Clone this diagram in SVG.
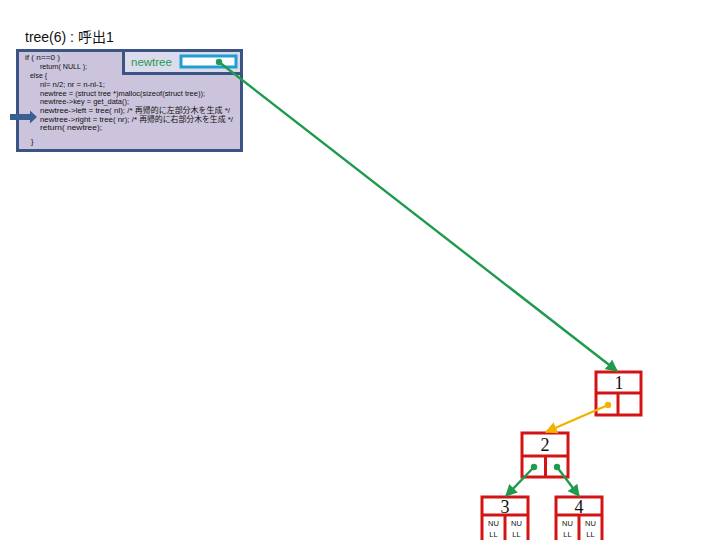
<svg xmlns="http://www.w3.org/2000/svg" width="720" height="540" viewBox="0 0 720 540">
<style>
.code{font-family:"Liberation Sans","Noto Sans CJK JP",sans-serif;font-size:7.5px;fill:#111}
.node{fill:#fff;stroke:#d41414;stroke-width:3}
.lbl{font-family:"Liberation Serif",serif;font-size:18px;fill:#111;text-anchor:middle}
.nul{font-family:"Liberation Sans",sans-serif;font-size:7.5px;fill:#111;text-anchor:middle}
.g{stroke:#1f9b4e;stroke-width:2.4;fill:none}
</style>
<defs>
<marker id="ag" viewBox="0 0 10 10" refX="9" refY="5" markerWidth="5" markerHeight="5" orient="auto"><path d="M0,0 L10,5 L0,10 z" fill="#1f9b4e"/></marker>
<marker id="ay" viewBox="0 0 10 10" refX="9" refY="5" markerWidth="5" markerHeight="5" orient="auto"><path d="M0,0 L10,5 L0,10 z" fill="#f0b400"/></marker>
</defs>
<text x="25" y="42" font-family="Liberation Sans,'Noto Sans CJK JP',sans-serif" font-size="14" fill="#111">tree(6) : 呼出1</text>
<g id="code">
<rect x="17.5" y="50.5" width="224" height="100" fill="#ccc4dc" stroke="#3b5483" stroke-width="3"/>
<text class="code" x="25" y="60" textLength="35" lengthAdjust="spacingAndGlyphs">if ( n==0 )</text>
<text class="code" x="40" y="69" textLength="47" lengthAdjust="spacingAndGlyphs">return( NULL );</text>
<text class="code" x="30" y="78" textLength="17" lengthAdjust="spacingAndGlyphs">else {</text>
<text class="code" x="40" y="87" textLength="65" lengthAdjust="spacingAndGlyphs">nl= n/2; nr = n-nl-1;</text>
<text class="code" x="40" y="95.5" textLength="165" lengthAdjust="spacingAndGlyphs">newtree = (struct tree *)malloc(sizeof(struct tree));</text>
<text class="code" x="40" y="104" textLength="89" lengthAdjust="spacingAndGlyphs">newtree-&gt;key = get_data();</text>
<text class="code" x="40" y="113" textLength="190" lengthAdjust="spacingAndGlyphs">newtree-&gt;left = tree( nl); /* 再帰的に左部分木を生成 */</text>
<text class="code" x="40" y="121.5" textLength="193" lengthAdjust="spacingAndGlyphs">newtree-&gt;right = tree( nr); /* 再帰的に右部分木を生成 */</text>
<text class="code" x="40" y="130" textLength="62" lengthAdjust="spacingAndGlyphs">return( newtree);</text>
<text class="code" x="31" y="144">}</text>
</g>
<g id="newtree">
<rect x="123.5" y="50.5" width="118" height="23" fill="#dcdbee" stroke="#3b5483" stroke-width="3"/>
<text x="131" y="66" font-family="Liberation Sans,sans-serif" font-size="11.5" fill="#1f9b4e">newtree</text>
<rect x="181" y="56" width="55" height="11" fill="#fff" stroke="#1e9fd0" stroke-width="3"/>
</g>
<g id="pointer-arrow">
<path d="M10,114 L30,114 L30,110.5 L37,117 L30,123.5 L30,120 L10,120 z" fill="#3b5f90"/>
</g>
<g id="node1">
<rect class="node" x="596" y="372" width="45" height="43"/>
<line x1="596" y1="393" x2="641" y2="393" stroke="#d41414" stroke-width="3"/>
<line x1="618" y1="393" x2="618" y2="415" stroke="#d41414" stroke-width="3"/>
<text class="lbl" x="619" y="389">1</text>
</g>
<g id="node2">
<rect class="node" x="522" y="433" width="46" height="44"/>
<line x1="522" y1="456" x2="568" y2="456" stroke="#d41414" stroke-width="3"/>
<line x1="545.5" y1="456" x2="545.5" y2="477" stroke="#d41414" stroke-width="3"/>
<text class="lbl" x="545" y="451">2</text>
</g>
<g id="node3">
<rect class="node" x="482" y="497" width="46" height="50"/>
<line x1="482" y1="515" x2="528" y2="515" stroke="#d41414" stroke-width="3"/>
<line x1="505" y1="515" x2="505" y2="547" stroke="#d41414" stroke-width="3"/>
<text class="lbl" x="505" y="513">3</text>
<text class="nul" x="493.5" y="526">NU</text>
<text class="nul" x="493.5" y="537">LL</text>
<text class="nul" x="516.5" y="526">NU</text>
<text class="nul" x="516.5" y="537">LL</text>
</g>
<g id="node4">
<rect class="node" x="556" y="497" width="46" height="50"/>
<line x1="556" y1="515" x2="602" y2="515" stroke="#d41414" stroke-width="3"/>
<line x1="579" y1="515" x2="579" y2="547" stroke="#d41414" stroke-width="3"/>
<text class="lbl" x="579" y="513">4</text>
<text class="nul" x="567.5" y="526">NU</text>
<text class="nul" x="567.5" y="537">LL</text>
<text class="nul" x="590.5" y="526">NU</text>
<text class="nul" x="590.5" y="537">LL</text>
</g>
<g id="connectors">
<line class="g" x1="219" y1="62" x2="617" y2="371" marker-end="url(#ag)"/>
<circle cx="219" cy="62" r="3.2" fill="#1f9b4e"/>
<line x1="608" y1="405" x2="546" y2="432" stroke="#f0b400" stroke-width="2.4" marker-end="url(#ay)"/>
<circle cx="608" cy="405" r="3.2" fill="#f0b400"/>
<line class="g" x1="534" y1="467" x2="506" y2="496" marker-end="url(#ag)"/>
<circle cx="534" cy="467" r="3.2" fill="#1f9b4e"/>
<line class="g" x1="557" y1="467" x2="579" y2="496" marker-end="url(#ag)"/>
<circle cx="557" cy="467" r="3.2" fill="#1f9b4e"/>
</g>
</svg>
